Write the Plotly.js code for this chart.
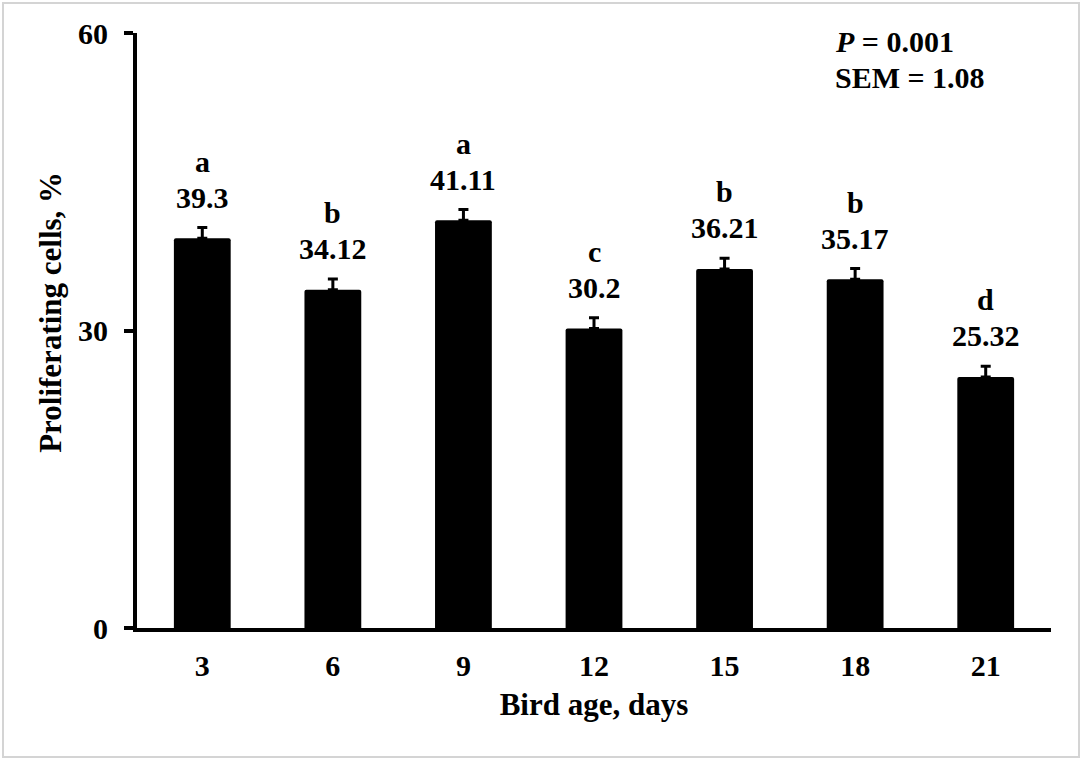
<!DOCTYPE html>
<html>
<head>
<meta charset="utf-8">
<script src="https://cdn.plot.ly/plotly-3.0.1.min.js"></script>
<style>
html, body { margin:0; padding:0; background:#fff; }
#wrap { position:relative; width:1084px; height:761px; }
#chart { position:absolute; left:0; top:0; width:1084px; height:761px; }
#frame { position:absolute; left:2px; top:2px; width:1074px; height:752px; border:2px solid #d4d4d4; pointer-events:none; }
</style>
</head>
<body>
<div id="wrap"><div id="chart"></div><div id="frame"></div></div>
<script>
const categories = ['3', '6', '9', '12', '15', '18', '21'];
const values = [39.3, 34.12, 41.11, 30.2, 36.21, 35.17, 25.32];
const valueLabels = ['39.3', '34.12', '41.11', '30.2', '36.21', '35.17', '25.32'];
const letters = ['a', 'b', 'a', 'c', 'b', 'b', 'd'];
const sem = 1.08;
const semArray = categories.map(() => sem);
const zeroArray = categories.map(() => 0);
const xTitle = 'Bird age, days';
const yTitle = 'Proliferating cells, %';

const FONT = 'Liberation Serif, Times New Roman, serif';
const FS = 30;
const FT = 31;

const trace = {
  type: 'bar',
  x: categories,
  y: values,
  marker: { color: '#000', line: { width: 0 }, cornerradius: 2 },
  error_y: {
    type: 'data', symmetric: false, array: semArray, arrayminus: zeroArray,
    color: '#000', thickness: 3, width: 5
  },
  hoverinfo: 'none'
};

const annotations = [];
categories.forEach((c, i) => {
  annotations.push({
    x: i, y: values[i], xref: 'x', yref: 'y', text: '<b>' + valueLabels[i] + '</b>',
    showarrow: false, yshift: 41, font: { family: FONT, size: FS, color: '#000' }
  });
  annotations.push({
    x: i, y: values[i], xref: 'x', yref: 'y', text: '<b>' + letters[i] + '</b>',
    showarrow: false, yshift: 77, font: { family: FONT, size: FS, color: '#000' }
  });
});
annotations.push({
  xref: 'paper', yref: 'paper', x: 0.762, y: 0.986, xanchor: 'left', yanchor: 'middle',
  text: '<b><i>P</i> = 0.001</b>', showarrow: false, align: 'left',
  font: { family: FONT, size: FS, color: '#000' }
});
annotations.push({
  xref: 'paper', yref: 'paper', x: 0.762, y: 0.925, xanchor: 'left', yanchor: 'middle',
  text: '<b>SEM = ' + sem.toFixed(2) + '</b>', showarrow: false, align: 'left',
  font: { family: FONT, size: FS, color: '#000' }
});
// y-axis title, placed as a rotated annotation so it sits slightly above centre as in the original
annotations.push({
  xref: 'paper', yref: 'paper', x: -0.095, y: 0.53, xanchor: 'center', yanchor: 'middle',
  text: '<b>' + yTitle + '</b>', textangle: -90, showarrow: false,
  font: { family: FONT, size: FT, color: '#000' }
});

const layout = {
  width: 1084, height: 761,
  margin: { l: 137, r: 33, t: 33, b: 133, pad: 0 },
  paper_bgcolor: '#fff', plot_bgcolor: '#fff',
  bargap: 0.565,
  showlegend: false,
  font: { family: FONT, color: '#000' },
  xaxis: {
    type: 'category', range: [-0.5, 6.5], autorange: false,
    showline: true, linecolor: '#000', linewidth: 4,
    ticks: '', showgrid: false, zeroline: false,
    tickfont: { family: FONT, size: FS, color: '#000', weight: 'bold' },
    ticklabelstandoff: 8,
    title: { text: '<b>' + xTitle + '</b>', font: { family: FONT, size: FT, color: '#000' }, standoff: 13 }
  },
  yaxis: {
    range: [0, 60], autorange: false, tickvals: [0, 30, 60], ticktext: ['0', '30', '60'],
    showline: true, linecolor: '#000', linewidth: 4,
    ticks: 'outside', ticklen: 9, tickwidth: 4, tickcolor: '#000',
    showgrid: false, zeroline: false,
    tickfont: { family: FONT, size: FS, color: '#000', weight: 'bold' },
    ticklabelstandoff: 10
  },
  annotations: annotations
};

Plotly.newPlot('chart', [trace], layout, { displayModeBar: false, staticPlot: true });
</script>
</body>
</html>
